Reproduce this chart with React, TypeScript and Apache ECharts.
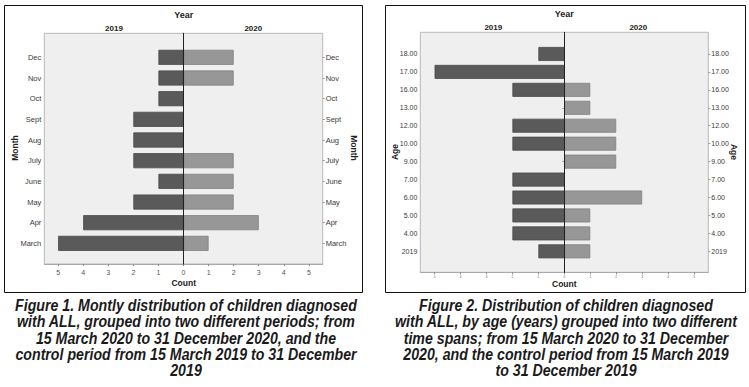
import React, { useEffect, useRef } from "react";
import * as echarts from "echarts";

const months = ["Dec", "Nov", "Oct", "Sept", "Aug", "July", "June", "May", "Apr", "March"];
const month2019 = [1, 1, 1, 2, 2, 2, 1, 2, 4, 5];
const month2020 = [2, 2, 0, 0, 0, 2, 2, 2, 3, 1];

const ages = ["18.00", "17.00", "16.00", "13.00", "12.00", "10.00", "9.00", "7.00", "6.00", "5.00", "4.00", "2019"];
const age2019 = [1, 5, 2, 0, 2, 2, 0, 2, 2, 2, 2, 1];
const age2020 = [0, 0, 1, 1, 2, 2, 2, 0, 3, 1, 1, 1];

const countTicks = [-5, -4, -3, -2, -1, 0, 1, 2, 3, 4, 5];

const caption1 =
  "Figure 1. Montly distribution of children diagnosed\nwith ALL, grouped into two different periods; from\n15 March 2020 to 31 December 2020, and the\ncontrol period from 15 March 2019 to 31 December\n2019";
const caption2 =
  "Figure 2. Distribution of children diagnosed\nwith ALL, by age (years) grouped into two different\ntime spans; from 15 March 2020 to 31 December\n2020, and the control period from 15 March 2019\nto 31 December 2019";

const FONT = "Liberation Sans, Arial, sans-serif";
const DARK = "#5a5a5a";
const LIGHT = "#979797";

export default function App() {
  const ref = useRef<HTMLDivElement>(null);
  useEffect(() => {
    if (!ref.current) return;
    const chart = echarts.init(ref.current, null, { renderer: "svg" });
    const nz = (v: number, s: number) => (v === 0 ? null : v * s);

    const countAxis = (grid: number, labelSize: number, margin: number) => ({
      type: "value",
      gridIndex: grid,
      min: -5.55,
      max: 5.55,
      splitLine: { show: false },
      axisLine: { show: true, onZero: false, lineStyle: { color: "#aaaaaa", width: 1 } },
      axisTick: { show: true, customValues: countTicks, length: 2, lineStyle: { color: "#888" } },
      axisLabel: {
        customValues: countTicks,
        formatter: (v: number) => String(Math.abs(v)),
        fontSize: labelSize,
        color: "#555",
        fontFamily: FONT,
        margin,
      },
    });
    const hiddenX = (grid: number) => ({
      type: "value",
      gridIndex: grid,
      min: -5.55,
      max: 5.55,
      show: false,
    });
    const centerY = (grid: number) => ({
      type: "value",
      gridIndex: grid,
      min: 0,
      max: 1,
      z: 5,
      splitLine: { show: false },
      axisTick: { show: false },
      axisLabel: { show: false },
      axisLine: { show: true, onZero: true, lineStyle: { color: "#222", width: 1 } },
    });
    const catY = (grid: number, cats: string[], pos: string, size: number) => ({
      type: "category",
      gridIndex: grid,
      data: cats,
      inverse: true,
      position: pos,
      axisLine: { show: false },
      axisTick: { show: true, alignWithLabel: true, length: 2, lineStyle: { color: "#999" } },
      axisLabel: { fontSize: size, color: "#3a3a3a", fontFamily: FONT, margin: 3 },
      splitLine: { show: false },
    });

    const barStyle = (c: string, b: string) => ({ color: c, borderColor: b, borderWidth: 0.8 });
    const capFont = `italic bold 16.5px "Liberation Sans", Arial, sans-serif`;

    const option: any = {
      animation: false,
      backgroundColor: "#ffffff",
      textStyle: { fontFamily: FONT },
      grid: [
        { left: 44.3, right: 426.3, top: 33.3, bottom: 123, show: true, backgroundColor: "#efefef", borderColor: "#b8b8b8", borderWidth: 1 },
        { left: 44.3, right: 426.3, top: 47, height: 206.7 },
        { left: 420.3, right: 40.7, top: 32.3, bottom: 114.7, show: true, backgroundColor: "#efefef", borderColor: "#b8b8b8", borderWidth: 1 },
        { left: 420.3, right: 40.7, top: 45, height: 215.3 },
      ],
      xAxis: [countAxis(0, 7, 5), hiddenX(1), countAxis(2, 3, 3), hiddenX(3)],
      yAxis: [
        centerY(0),
        catY(1, months, "left", 7.5),
        catY(1, months, "right", 7.5),
        centerY(2),
        catY(3, ages, "left", 7),
        catY(3, ages, "right", 7),
      ],
      series: [
        {
          type: "bar", name: "2019", xAxisIndex: 1, yAxisIndex: 1, stack: "m",
          barCategoryGap: "27%", data: month2019.map((v) => nz(v, -1)),
          itemStyle: barStyle(DARK, "#4a4a4a"),
        },
        {
          type: "bar", name: "2020", xAxisIndex: 1, yAxisIndex: 1, stack: "m",
          barCategoryGap: "27%", data: month2020.map((v) => nz(v, 1)),
          itemStyle: barStyle(LIGHT, "#808080"),
        },
        {
          type: "bar", name: "2019", xAxisIndex: 3, yAxisIndex: 4, stack: "a",
          barCategoryGap: "22%", data: age2019.map((v) => nz(v, -1)),
          itemStyle: barStyle(DARK, "#4a4a4a"),
        },
        {
          type: "bar", name: "2020", xAxisIndex: 3, yAxisIndex: 4, stack: "a",
          barCategoryGap: "22%", data: age2020.map((v) => nz(v, 1)),
          itemStyle: barStyle(LIGHT, "#808080"),
        },
      ],
      graphic: [
        { type: "rect", shape: { x: 4.5, y: 5.5, width: 358, height: 287 }, style: { fill: "none", stroke: "#111", lineWidth: 1 } },
        { type: "rect", shape: { x: 385.5, y: 5.5, width: 360, height: 287 }, style: { fill: "none", stroke: "#111", lineWidth: 1 } },
        { type: "text", x: 183.7, y: 15, style: { text: "Year", font: `bold 9px ${FONT}`, fill: "#222", align: "center", verticalAlign: "middle" } },
        { type: "text", x: 114, y: 28.3, style: { text: "2019", font: `bold 8px ${FONT}`, fill: "#222", align: "center", verticalAlign: "middle" } },
        { type: "text", x: 253.3, y: 28.3, style: { text: "2020", font: `bold 8px ${FONT}`, fill: "#222", align: "center", verticalAlign: "middle" } },
        { type: "text", x: 183.7, y: 283, style: { text: "Count", font: `bold 8.5px ${FONT}`, fill: "#222", align: "center", verticalAlign: "middle" } },
        { type: "text", x: 15, y: 148, rotation: Math.PI / 2, style: { text: "Month", font: `bold 8.5px ${FONT}`, fill: "#222", align: "center", verticalAlign: "middle" } },
        { type: "text", x: 354, y: 148, rotation: -Math.PI / 2, style: { text: "Month", font: `bold 8.5px ${FONT}`, fill: "#222", align: "center", verticalAlign: "middle" } },
        { type: "text", x: 564.3, y: 14.3, style: { text: "Year", font: `bold 9px ${FONT}`, fill: "#222", align: "center", verticalAlign: "middle" } },
        { type: "text", x: 493.3, y: 27.5, style: { text: "2019", font: `bold 8px ${FONT}`, fill: "#222", align: "center", verticalAlign: "middle" } },
        { type: "text", x: 638.3, y: 27.5, style: { text: "2020", font: `bold 8px ${FONT}`, fill: "#222", align: "center", verticalAlign: "middle" } },
        { type: "text", x: 564.3, y: 284, style: { text: "Count", font: `bold 8.5px ${FONT}`, fill: "#222", align: "center", verticalAlign: "middle" } },
        { type: "text", x: 395, y: 152, rotation: Math.PI / 2, style: { text: "Age", font: `bold 8.5px ${FONT}`, fill: "#222", align: "center", verticalAlign: "middle" } },
        { type: "text", x: 733.5, y: 152, rotation: -Math.PI / 2, style: { text: "Age", font: `bold 8.5px ${FONT}`, fill: "#222", align: "center", verticalAlign: "middle" } },
        { type: "text", x: 186, y: 297, scaleX: 0.86, style: { text: caption1, font: capFont, fill: "#1a1a1a", align: "center", verticalAlign: "top", lineHeight: 16.3 } },
        { type: "text", x: 566, y: 297, scaleX: 0.86, style: { text: caption2, font: capFont, fill: "#1a1a1a", align: "center", verticalAlign: "top", lineHeight: 16.3 } },
      ],
    };
    chart.setOption(option);
    return () => chart.dispose();
  }, []);
  return (
    <div
      ref={ref}
      style={{ position: "absolute", left: 0, top: 0, width: 749, height: 387, background: "#fff" }}
    />
  );
}
